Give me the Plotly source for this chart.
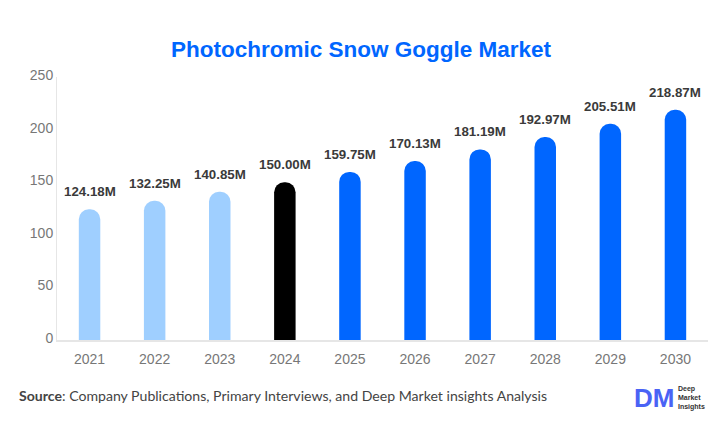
import plotly.graph_objects as go

years = ["2021","2022","2023","2024","2025","2026","2027","2028","2029","2030"]
values = [124.18,132.25,140.85,150.00,159.75,170.13,181.19,192.97,205.51,218.87]
labels = ["124.18M","132.25M","140.85M","150.00M","159.75M","170.13M","181.19M","192.97M","205.51M","218.87M"]
colors = ["#9fcfff"]*3 + ["#000000"] + ["#0066ff"]*6

fig = go.Figure(go.Bar(x=years, y=values, marker=dict(color=colors, line_width=0, cornerradius=11),
                       width=0.33, hoverinfo="skip"))
for i, (y, t) in enumerate(zip(values, labels)):
    fig.add_annotation(x=i, y=y, text=f"<b>{t}</b>", showarrow=False, yanchor="bottom", yshift=8,
                       font=dict(family="Liberation Sans", size=13.3, color="#3a3a3a"))

fig.add_annotation(xref="paper", yref="paper", x=0.4674, y=1.1027, text="<b>Photochromic Snow Goggle Market</b>",
                   showarrow=False, xanchor="center", yanchor="middle",
                   font=dict(family="Liberation Sans", size=22.5, color="#0066ff"))
fig.add_annotation(xref="paper", yref="paper", x=-0.0615, y=-0.2129,
                   text="<b>Source</b>: Company Publications, Primary Interviews, and Deep Market insights Analysis",
                   showarrow=False, xanchor="left", yanchor="middle",
                   font=dict(family="Lato", size=14.1, color="#444444"))
# logo
fig.add_annotation(xref="paper", yref="paper", x=0.883, y=-0.2205, text="<b>DM</b>", showarrow=False,
                   xanchor="left", yanchor="middle", font=dict(family="Liberation Sans", size=26, color="#4a63f5"))
for txt, yp in zip(["Deep", "Market", "Insights"], [-0.188, -0.2205, -0.253]):
    fig.add_annotation(xref="paper", yref="paper", x=0.951, y=yp, text=f"<b>{txt}</b>",
                       showarrow=False, xanchor="left", yanchor="middle", align="left",
                       font=dict(family="Liberation Sans", size=7, color="#333333"))

fig.update_layout(width=726, height=443, margin=dict(l=56.5, r=18, t=77, b=103, autoexpand=False),
                  paper_bgcolor="white", plot_bgcolor="white", showlegend=False)
fig.update_xaxes(type="category", range=[-0.5, 9.5], showgrid=False, showline=True, linecolor="#e6e6e6", linewidth=1.5, ticks="",
                 ticklabelstandoff=5, tickfont=dict(family="Liberation Sans", size=14, color="#777777"))
fig.update_yaxes(range=[0,250], tickvals=[0,50,100,150,200,250], showgrid=False, showline=True, zeroline=False,
                 linecolor="#e6e6e6", linewidth=1, ticks="", ticklabelshift=-2,
                 tickfont=dict(family="Liberation Sans", size=14, color="#777777"))
fig.write_html("out.html", config={"displayModeBar": False},
               post_script="document.body.style.margin='0';")
